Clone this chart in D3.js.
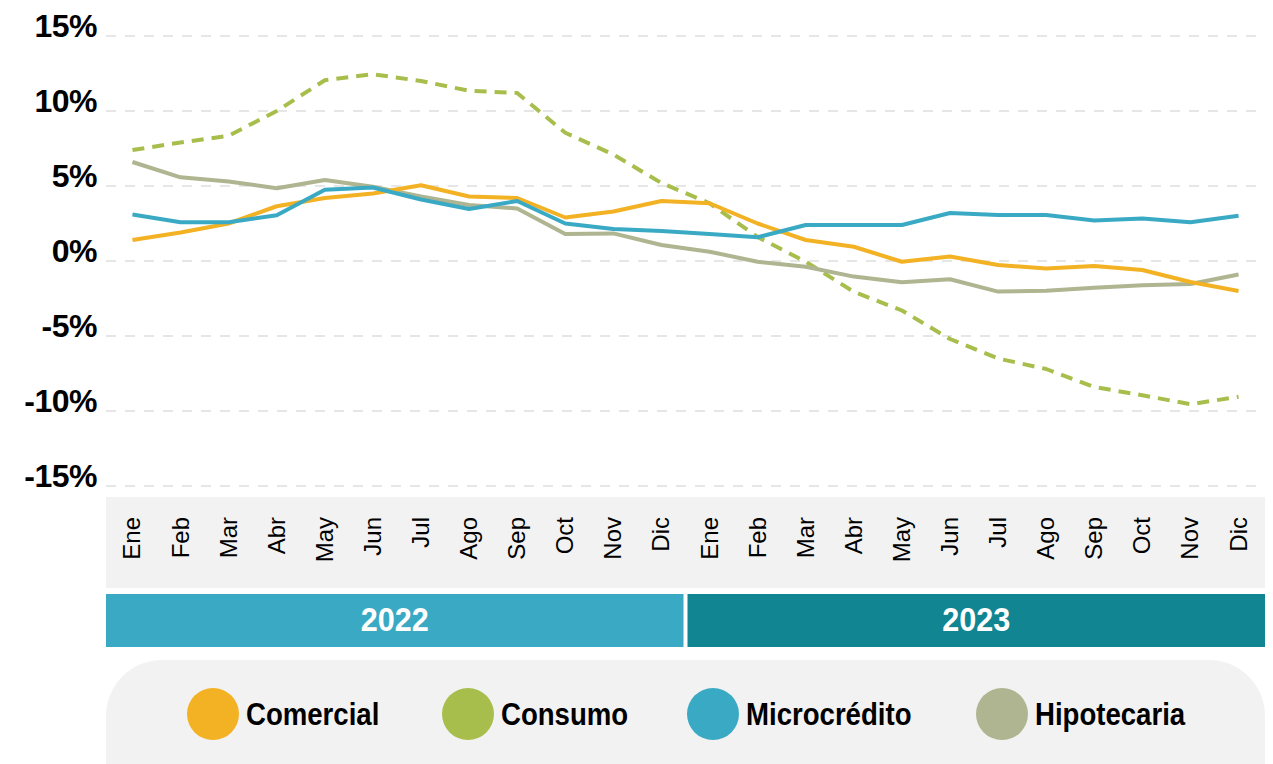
<!DOCTYPE html>
<html>
  <head>
    <meta charset="utf-8">
    <title>Crecimiento de la cartera</title>
    <script src="https://cdn.jsdelivr.net/npm/d3@7"></script>
    <style>
        body { margin: 0; background: #fff; }
        svg { display: block; font-family: "Liberation Sans", Arial, sans-serif; }
    </style>
  </head>
  <body>
    <div id="viz"></div>
    <script>
        // months for the two years shown
        var months = ["Ene","Feb","Mar","Abr","May","Jun","Jul","Ago","Sep","Oct","Nov","Dic"];
        var years = ["2022", "2023"];
        var yTicks = [15, 10, 5, 0, -5, -10, -15];

        // values (%)
        var comercial = [1.4, 1.9, 2.5, 3.65, 4.2, 4.5, 5.05, 4.3, 4.2, 2.9, 3.3, 4.0,
                         3.85, 2.5, 1.4, 0.95, -0.05, 0.3, -0.27, -0.5, -0.33, -0.6, -1.4, -2.0];
        var consumo = [7.4, 7.9, 8.35, 10.0, 12.05, 12.45, 12.0, 11.35, 11.2, 8.55, 7.1, 5.2,
                       3.85, 1.6, -0.05, -2.05, -3.3, -5.2, -6.5, -7.2, -8.4, -8.95, -9.55, -9.05];
        var microcredito = [3.1, 2.58, 2.58, 3.05, 4.75, 4.9, 4.1, 3.47, 4.0, 2.5, 2.13, 2.0,
                            1.8, 1.58, 2.4, 2.4, 2.4, 3.2, 3.07, 3.07, 2.7, 2.84, 2.58, 3.02];
        var hipotecaria = [6.6, 5.58, 5.3, 4.85, 5.4, 4.95, 4.3, 3.73, 3.5, 1.8, 1.84, 1.07,
                           0.62, -0.05, -0.38, -1.04, -1.42, -1.22, -2.04, -1.98, -1.78, -1.62, -1.53, -0.9];

        var seriesNames = ["Comercial", "Consumo", "Microcrédito", "Hipotecaria"];
        var seriesColors = ["#f3b124", "#a8be4c", "#3aaac4", "#aeb590"];
        var seriesValues = [comercial, consumo, microcredito, hipotecaria];
        var yearColors = ["#3aaac4", "#128592"];

        var width = 1273, height = 764;
        var left = 106, right = 1265;

        var svg = d3.select("#viz").append("svg")
            .attr("width", width)
            .attr("height", height);

        // one slot per month across both years
        var keys = [];
        years.forEach(function(yr) {
            months.forEach(function(m) { keys.push(m + " " + yr); });
        });

        var x = d3.scalePoint().domain(keys).range([left, right]).padding(0.55);
        var y = d3.scaleLinear().domain([-15, 15]).range([486, 36]);

        // dashed grid lines
        svg.append("g").selectAll("line")
            .data(yTicks)
            .enter().append("line")
            .attr("x1", left).attr("x2", right)
            .attr("y1", function(d) { return y(d); })
            .attr("y2", function(d) { return y(d); })
            .style("stroke", "#dedede")
            .style("stroke-width", 1.5)
            .style("stroke-dasharray", "10,9");

        // y axis labels
        svg.append("g").selectAll("text")
            .data(yTicks)
            .enter().append("text")
            .attr("x", 97)
            .attr("y", function(d) { return y(d) + 1; })
            .attr("text-anchor", "end")
            .style("font-size", "32px")
            .style("font-weight", "bold")
            .style("letter-spacing", "-0.5px")
            .text(function(d) { return d + "%"; });

        // lines
        var line = d3.line()
            .x(function(d, i) { return x(keys[i]); })
            .y(function(d) { return y(d); });

        // draw order: consumo first so solid lines sit on top where they cross
        [1, 3, 0, 2].forEach(function(s) {
            svg.append("path")
                .datum(seriesValues[s])
                .attr("d", line)
                .style("fill", "none")
                .style("stroke", seriesColors[s])
                .style("stroke-width", 4)
                .style("stroke-linejoin", "round")
                .style("stroke-dasharray", s == 1 ? "12,8" : null);
        });

        // month band
        svg.append("rect")
            .attr("x", left).attr("y", 497)
            .attr("width", right - left).attr("height", 91)
            .style("fill", "#f2f2f2");

        svg.append("g").selectAll("text")
            .data(keys)
            .enter().append("text")
            .attr("transform", function(d) { return "translate(" + (x(d) + 8) + ",517) rotate(-90)"; })
            .attr("text-anchor", "end")
            .style("font-size", "24px")
            .text(function(d) { return d.split(" ")[0]; });

        // year bars
        var step = x.step();
        years.forEach(function(yr, i) {
            var x0 = i == 0 ? left : x("Ene " + yr) - step / 2 + 2;
            var x1 = i == 0 ? x("Dic " + yr) + step / 2 - 2 : right;
            svg.append("rect")
                .attr("x", x0).attr("y", 594)
                .attr("width", x1 - x0).attr("height", 53)
                .style("fill", yearColors[i]);
            svg.append("text")
                .attr("transform", "translate(" + ((x0 + x1) / 2) + ",631) scale(0.9,1)")
                .attr("text-anchor", "middle")
                .style("fill", "#fff")
                .style("font-size", "34px")
                .style("font-weight", "bold")
                .text(yr);
        });

        // legend
        svg.append("rect")
            .attr("x", left).attr("y", 660)
            .attr("width", right - left).attr("height", 160)
            .attr("rx", 56).attr("ry", 56)
            .style("fill", "#f2f2f2");

        var legendX = [213, 468, 713, 1002];
        var legend = svg.append("g").selectAll("g")
            .data(seriesNames)
            .enter().append("g")
            .attr("transform", function(d, i) { return "translate(" + legendX[i] + ",714)"; });

        legend.append("circle")
            .attr("r", 26)
            .style("fill", function(d, i) { return seriesColors[i]; });

        // condensed look for the legend labels
        legend.append("text")
            .attr("transform", "translate(33,11) scale(0.89,1)")
            .style("font-size", "31px")
            .style("font-weight", "bold")
            .text(function(d) { return d; });
    </script>
  </body>
</html>
